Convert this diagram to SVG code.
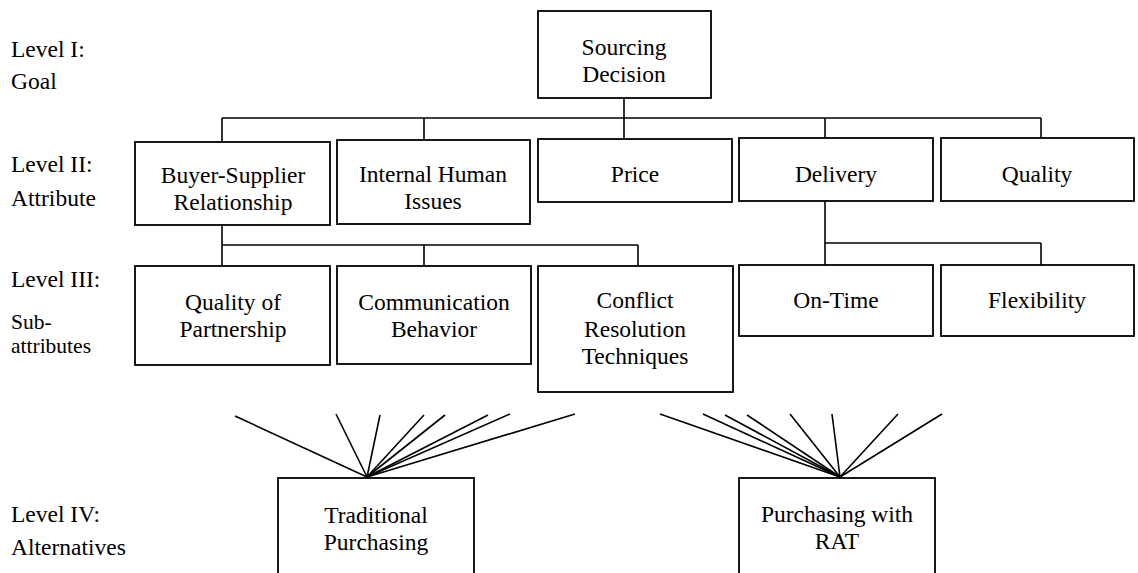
<svg xmlns="http://www.w3.org/2000/svg" width="1138" height="573" viewBox="0 0 1138 573">
<style>
rect.box{fill:#fff;stroke:#000;stroke-width:1.8}
text{font-family:"Times New Roman","Liberation Serif","DejaVu Serif",serif;font-size:23.5px;fill:#000}
.c{text-anchor:middle}
.s{font-size:21.5px}
#connectors line{stroke:#000;stroke-width:1.6;fill:none}
</style>
<rect width="1138" height="573" fill="#fff"/>
<g id="labels">
<text x="11" y="57">Level I:</text>
<text x="11" y="89">Goal</text>
<text x="11" y="172">Level II:</text>
<text x="11" y="206">Attribute</text>
<text x="11" y="287">Level III:</text>
<text class="s" x="11" y="329">Sub-</text>
<text class="s" x="11" y="353">attributes</text>
<text x="11" y="522">Level IV:</text>
<text x="11" y="555">Alternatives</text>
</g>
<g id="connectors">
<line x1="624" y1="98" x2="624" y2="139"/>
<line x1="222" y1="118" x2="1041" y2="118"/>
<line x1="222" y1="118" x2="222" y2="142"/>
<line x1="424" y1="118" x2="424" y2="140"/>
<line x1="825" y1="118" x2="825" y2="138"/>
<line x1="1041" y1="118" x2="1041" y2="138"/>
<line x1="222" y1="225" x2="222" y2="266"/>
<line x1="222" y1="245" x2="638" y2="245"/>
<line x1="424" y1="245" x2="424" y2="266"/>
<line x1="638" y1="245" x2="638" y2="266"/>
<line x1="825" y1="201" x2="825" y2="265"/>
<line x1="825" y1="243" x2="1041" y2="243"/>
<line x1="1041" y1="243" x2="1041" y2="265"/>
<line x1="235" y1="416" x2="367" y2="477"/>
<line x1="336" y1="414" x2="367" y2="477"/>
<line x1="380" y1="415" x2="367" y2="477"/>
<line x1="424" y1="415" x2="367" y2="477"/>
<line x1="445" y1="415" x2="367" y2="477"/>
<line x1="488" y1="415" x2="367" y2="477"/>
<line x1="510" y1="414" x2="367" y2="477"/>
<line x1="575" y1="414" x2="367" y2="477"/>
<line x1="660" y1="414" x2="840" y2="477"/>
<line x1="703" y1="414" x2="840" y2="477"/>
<line x1="725" y1="415" x2="840" y2="477"/>
<line x1="747" y1="415" x2="840" y2="477"/>
<line x1="790" y1="414" x2="840" y2="477"/>
<line x1="832" y1="414" x2="840" y2="477"/>
<line x1="898" y1="414" x2="840" y2="477"/>
<line x1="942" y1="414" x2="840" y2="477"/>
</g>
<g id="sourcing-decision">
<rect class="box" x="538" y="11" width="173" height="87"/>
<text class="c" x="624" y="55">Sourcing</text>
<text class="c" x="624" y="82">Decision</text>
</g>
<g id="buyer-supplier">
<rect class="box" x="135" y="142" width="195" height="83"/>
<text class="c" x="233" y="183">Buyer-Supplier</text>
<text class="c" x="233" y="210">Relationship</text>
</g>
<g id="internal-human">
<rect class="box" x="337" y="140" width="193" height="84"/>
<text class="c" x="433" y="182">Internal Human</text>
<text class="c" x="433" y="209">Issues</text>
</g>
<g id="price">
<rect class="box" x="538" y="139" width="194" height="63"/>
<text class="c" x="635" y="182">Price</text>
</g>
<g id="delivery">
<rect class="box" x="739" y="138" width="194" height="63"/>
<text class="c" x="836" y="182">Delivery</text>
</g>
<g id="quality">
<rect class="box" x="941" y="138" width="193" height="63"/>
<text class="c" x="1037" y="182">Quality</text>
</g>
<g id="quality-of-partnership">
<rect class="box" x="135" y="266" width="195" height="99"/>
<text class="c" x="233" y="310">Quality of</text>
<text class="c" x="233" y="337">Partnership</text>
</g>
<g id="communication-behavior">
<rect class="box" x="337" y="266" width="194" height="98"/>
<text class="c" x="434" y="310">Communication</text>
<text class="c" x="434" y="337">Behavior</text>
</g>
<g id="conflict-resolution">
<rect class="box" x="538" y="266" width="195" height="126"/>
<text class="c" x="635" y="308">Conflict</text>
<text class="c" x="635" y="337">Resolution</text>
<text class="c" x="635" y="364">Techniques</text>
</g>
<g id="on-time">
<rect class="box" x="739" y="265" width="194" height="71"/>
<text class="c" x="836" y="308">On-Time</text>
</g>
<g id="flexibility">
<rect class="box" x="941" y="265" width="193" height="71"/>
<text class="c" x="1037" y="308">Flexibility</text>
</g>
<g id="traditional-purchasing">
<rect class="box" x="278" y="478" width="196" height="110"/>
<text class="c" x="376" y="523">Traditional</text>
<text class="c" x="376" y="550">Purchasing</text>
</g>
<g id="purchasing-with-rat">
<rect class="box" x="739" y="478" width="196" height="110"/>
<text class="c" x="837" y="522">Purchasing with</text>
<text class="c" x="837" y="549">RAT</text>
</g>
</svg>
